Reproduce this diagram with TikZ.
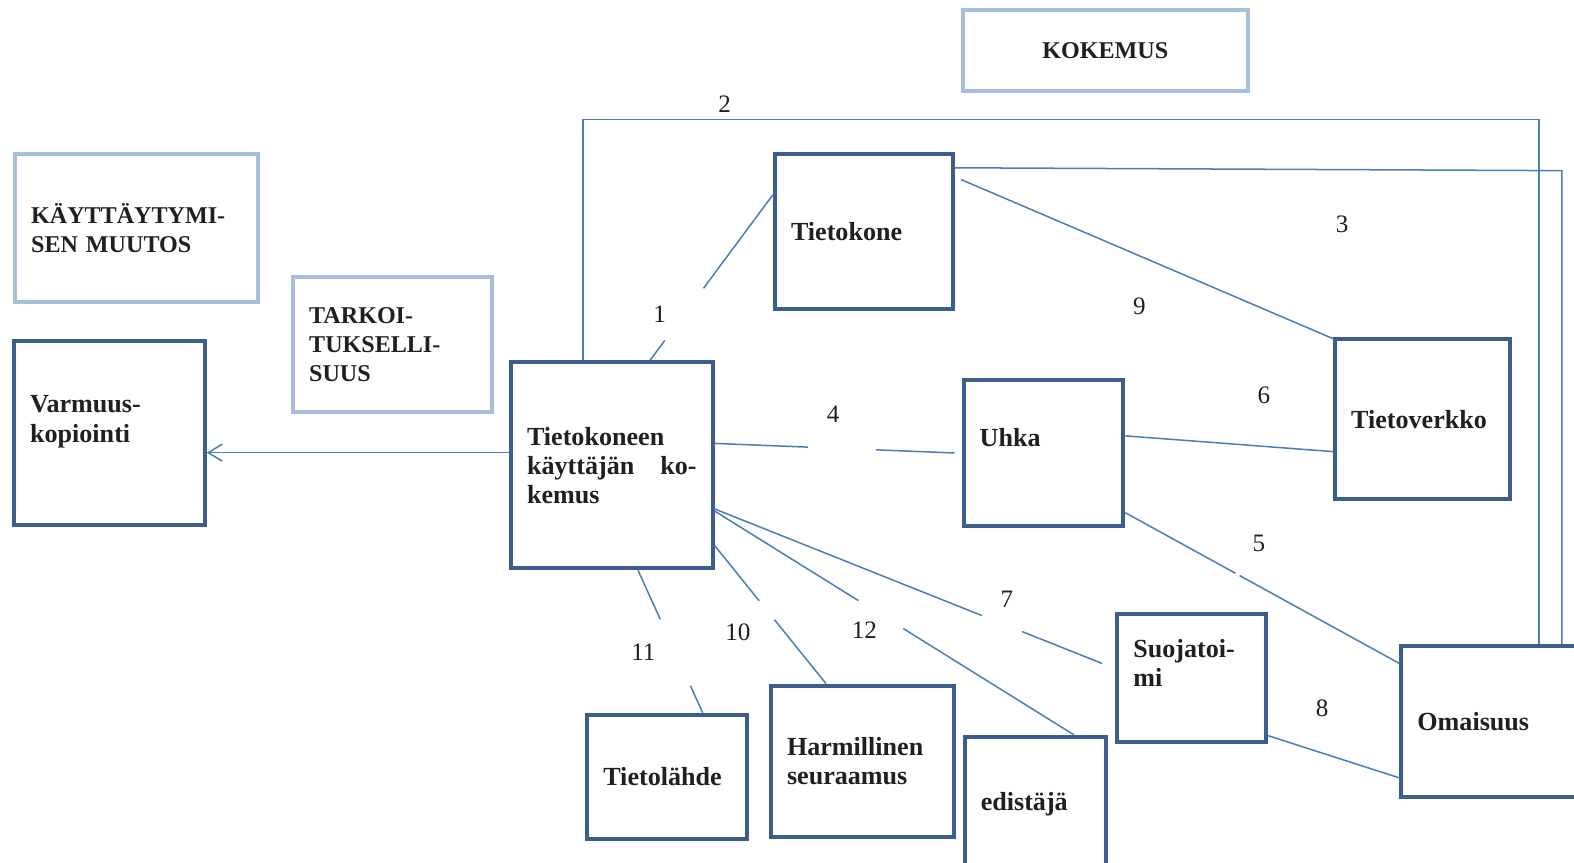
\documentclass[tikz,border=0pt]{standalone}
\usepackage{fontspec}
\setmainfont{Liberation Serif}
\usetikzlibrary{calc,arrows.meta}

\definecolor{boxblue}{HTML}{3B5E8C}
\definecolor{paleblue}{HTML}{A7BEDC}
\definecolor{linkblue}{HTML}{4A7EBB}
\definecolor{ink}{HTML}{231F20}

\tikzset{
  darkbox/.style={draw=boxblue, line width=2pt, inner xsep=8pt, inner ysep=0pt, align=left, text=ink, font=\bfseries\fontsize{13}{14.5}\selectfont},
  palebox/.style={darkbox, draw=paleblue, font=\bfseries\fontsize{12}{14.5}\selectfont},
  link/.style={draw=linkblue, line width=0.75pt},
  num/.style={inner sep=0pt, text=ink, font=\fontsize{12.5}{14.5}\selectfont}
}

\begin{document}
\begin{tikzpicture}[x=0.5pt, y=-0.5pt]
\path[use as bounding box, fill=white] (0,0) rectangle (1568,859);

% boxes
\node[palebox, align=center, text width=126pt, minimum height=40.5pt] (kok) at (1101,50.5) {KOKEMUS};
\node[palebox, text width=105pt, minimum height=74pt] (kayt) at (136,227) {KÄYTTÄYTYMI-\\SEN MUUTOS};
\node[palebox, text width=83pt, minimum height=67pt] (tark) at (391,343) {TARKOI-\\TUKSELLI-\\SUUS};
\node[darkbox, text width=79pt, minimum height=91.5pt, text depth=28.7pt] (varm) at (109,431.5) {Varmuus-\\kopiointi};
\node[darkbox, text width=84.5pt, minimum height=102.5pt] (tkk) at (609.5,463.5) {Tietokoneen\\käyttäjän\hfill ko-\\kemus};
\node[darkbox, text width=72.5pt, minimum height=77.5pt] (tk) at (860.5,230.5) {Tietokone};
\node[darkbox, text width=63.5pt, minimum height=72.5pt, text depth=15.5pt] (uhka) at (1039.5,451.5) {Uhka};
\node[darkbox, text width=71pt, minimum height=79.5pt] (verkko) at (1417,417.5) {Tietoverkko};
\node[darkbox, text width=75pt, minimum height=75pt] (omai) at (1487,719) {Omaisuus};
\node[darkbox, text width=58pt, minimum height=63.5pt, text depth=30pt] (suoj) at (1187,675.5) {Suojatoi-\\mi};
\node[darkbox, text width=63.5pt, minimum height=62pt] (tlah) at (664.5,774) {Tietolähde};
\node[darkbox, text width=75pt, minimum height=75.5pt] (harm) at (859,758.5) {Harmillinen\\seuraamus};
\node[darkbox, text width=54.5pt, minimum height=67pt] (edis) at (1031.5,801) {edistäjä};

% connectors
\draw[link, -{Straight Barb[length=7pt,width=8.5pt]}] (tkk.173) -- (tkk.173 -| varm.east);
\coordinate (c2) at (1533,119);
\draw[link] ([xshift=-14.25pt]tkk.north) |- (c2) -- (c2 |- omai.north);
\coordinate (c3) at (1556,170);
\draw[link] (tk.35) -- (c3) -- (c3 |- omai.north);
\draw[link] (tkk.70) -- ($(tkk.70)!0.12!(tk.158)$) ($(tkk.70)!0.435!(tk.158)$) -- (tk.158);
\draw[link, shorten <=3.5pt] (tk.31) -- (verkko.138);
\draw[link] (tkk.12) -- ($(tkk.12)!0.378!(uhka.180)$);
\draw[link, shorten >=3.5pt] ($(tkk.12)!0.654!(uhka.180)$) -- (uhka.180);
\draw[link] (uhka.12) -- (verkko.200);
\draw[link] (uhka.-36) -- ($(uhka.-36)!0.402!(omai.148)$) ($(uhka.-36)!0.417!(omai.148)$) -- (omai.148);
\draw[link] (suoj.-37) -- (omai.211);
\draw[link] (tkk.-23) -- ($(tkk.-23)!0.667!(suoj.173)$);
\draw[link, shorten >=7pt] ($(tkk.-23)!0.767!(suoj.173)$) -- (suoj.173);
\draw[link] (tkk.-24) -- ($(tkk.-24)!0.40!(edis.61)$) ($(tkk.-24)!0.525!(edis.61)$) -- (edis.61);
\draw[link] (tkk.-38) -- ($(tkk.-38)!0.40!(harm.115)$) ($(tkk.-38)!0.536!(harm.115)$) -- (harm.115);
\draw[link] (tkk.-76) -- ($(tkk.-76)!0.345!(tlah.61)$) ($(tkk.-76)!0.81!(tlah.61)$) -- (tlah.61);

% numbers
\node[num] (n1) at (657,313) {1};
\node[num] (n2) at (722,104) {2};
\node[num] (n3) at (1337,223) {3};
\node[num] (n4) at (830,413) {4};
\node[num] (n5) at (1254,541) {5};
\node[num] (n6) at (1259,394) {6};
\node[num] (n7) at (1003,597) {7};
\node[num] (n8) at (1317,706) {8};
\node[num] (n9) at (1135,305) {9};
\node[num] (n10) at (735,630) {10};
\node[num] (n11) at (641,650) {11};
\node[num] (n12) at (861,628) {12};
\end{tikzpicture}
\end{document}
